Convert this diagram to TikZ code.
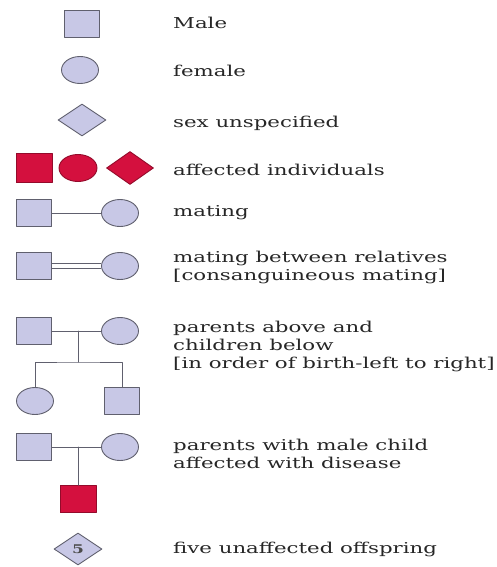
\documentclass[tikz,border=0pt]{standalone}
\usepackage{fontspec}
\setmainfont{DejaVu Serif}[FakeStretch=1.42]
\usetikzlibrary{shapes.geometric}
\definecolor{unaff}{RGB}{200,200,230}
\definecolor{aff}{RGB}{212,16,62}
\definecolor{edge}{RGB}{96,96,110}

\begin{document}
\begin{tikzpicture}[x=1pt, y=-1pt, line cap=round, line join=round,
    sym/.style={draw=edge, line width=0.9pt, fill=unaff, inner sep=0pt},
    male/.style={sym, rectangle, minimum width=35pt, minimum height=27pt},
    female/.style={sym, ellipse, minimum width=37pt, minimum height=27pt},
    unspec/.style={sym, diamond, aspect=1.5, minimum width=48pt, minimum height=32pt},
    affected/.style={fill=aff, draw=aff!70!black},
    legend/.style={anchor=west, inner sep=0pt, align=left, text=black!85,
      font=\fontsize{15}{18}\selectfont},
    link/.style={draw=edge, line width=1pt}]
  \useasboundingbox (0,0) rectangle (497,567);

  \node[male] (male) at (82,24) {};
  \node[female] (female) at (80,70) {};
  \node[unspec] (unspec) at (82,120) {};
  \node[male, affected, minimum width=36pt, minimum height=29pt] (am) at (34,168) {};
  \node[female, affected, minimum width=38pt] (af) at (78,168) {};
  \node[unspec, affected, minimum width=47pt, minimum height=33pt] (au) at (130,168) {};

  \node[male] (m1) at (34,213) {};
  \node[female] (f1) at (120,213) {};
  \draw[link] (m1) -- (f1);

  \node[male] (m2) at (34,266) {};
  \node[female] (f2) at (120,266) {};
  \draw[link, line cap=butt, double=white, double distance=4pt, line width=0.8pt] (m2) -- (f2);

  \node[male] (m3) at (34,331) {};
  \node[female] (f3) at (120,331) {};
  \coordinate (j3) at (78,331);
  \coordinate (s3) at (78,362);
  \node[female] (c1) at (35,401) {};
  \node[male] (c2) at (122,401) {};
  \draw[link] (m3) -- (f3);
  \draw[link] (j3) -- (s3);
  \draw[link] (c1.north) |- (s3) -| (c2.north);

  \node[male] (m4) at (34,447) {};
  \node[female] (f4) at (120,447) {};
  \coordinate (j4) at (78,447);
  \node[male, affected, minimum width=36pt] (ch) at (78,499) {};
  \draw[link] (m4) -- (f4);
  \draw[link] (j4) -- (ch.north);

  \node[unspec, font=\fontsize{12}{12}\selectfont\bfseries, text=black!70] (five) at (78,549) {5};

  \node[legend] at (173,23) {Male};
  \node[legend] at (173,71) {female};
  \node[legend] at (173,123) {sex unspecified};
  \node[legend] at (173,170) {affected individuals};
  \node[legend] at (173,213) {mating};
  \node[legend] at (173,267) {mating between relatives\\{}[consanguineous mating]};
  \node[legend] at (173,346) {parents above and\\children below\\{}[in order of birth-left to right]};
  \node[legend] at (173,454) {parents with male child\\affected with disease};
  \node[legend] at (173,549) {five unaffected offspring};
\end{tikzpicture}
\end{document}
